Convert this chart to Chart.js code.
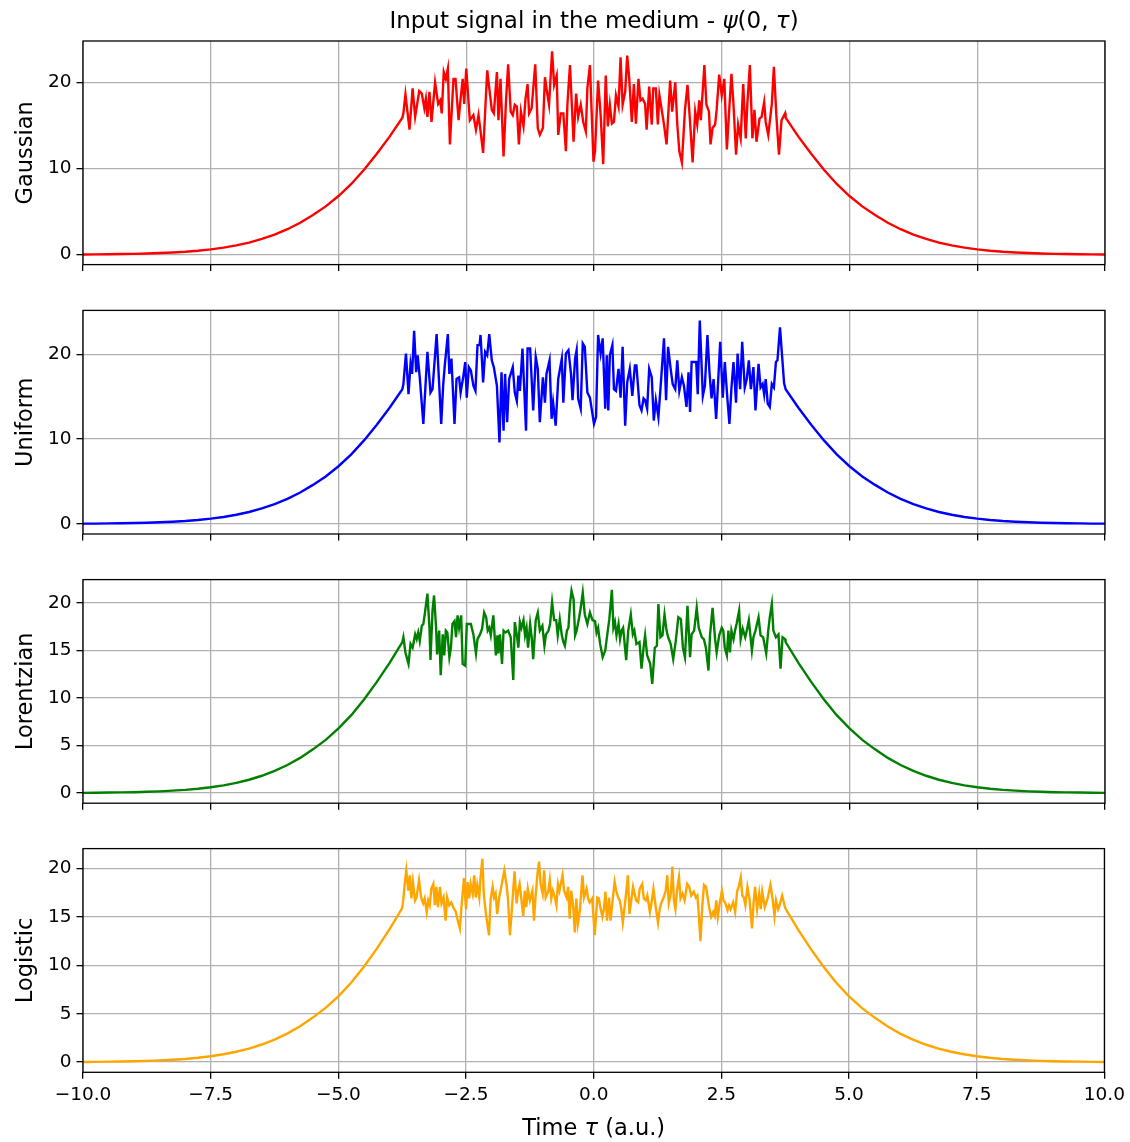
<!DOCTYPE html>
<html>
<head>
<meta charset="utf-8">
<script src="https://cdn.jsdelivr.net/npm/chart.js@4.4.0/dist/chart.umd.min.js"></script>
<style>
  body { margin: 0; background: #fff; width: 1130px; height: 1142px; position: relative; overflow: hidden; }
  canvas { position: absolute; left: 0; }
</style>
</head>
<body>
<script>
// shared time axis
const xTicks = [-10, -7.5, -5, -2.5, 0, 2.5, 5, 7.5, 10];
const yTicksWide = [0, 10, 20];
const yTicksFine = [0, 5, 10, 15, 20];

// smooth leading edge (left wing), the trailing edge is its mirror
const envTau = [-10, -9.75, -9.5, -9.25, -9, -8.75, -8.5, -8.25, -8, -7.75,
  -7.5, -7.25, -7, -6.75, -6.5, -6.25, -6, -5.75, -5.5, -5.25,
  -5, -4.75, -4.5, -4.25, -4, -3.75];
const envVal = [0.02, 0.03, 0.05, 0.07, 0.09, 0.13, 0.18, 0.25, 0.33, 0.45,
  0.61, 0.81, 1.07, 1.40, 1.82, 2.33, 2.95, 3.70, 4.60, 5.60,
  6.80, 8.20, 9.85, 11.7, 13.7, 15.9];

// noisy plateau, Gaussian noise
const gaussTau = [
  -3.73, -3.69, -3.61, -3.55, -3.50, -3.42, -3.37, -3.32, -3.29, -3.26,
  -3.22, -3.18, -3.11, -3.05, -3.01, -2.98, -2.94, -2.90, -2.86, -2.82,
  -2.75, -2.71, -2.65, -2.61, -2.57, -2.54, -2.50, -2.43, -2.36, -2.31,
  -2.26, -2.22, -2.17, -2.09, -2.00, -1.96, -1.90, -1.87, -1.83, -1.77,
  -1.72, -1.68, -1.63, -1.59, -1.55, -1.51, -1.47, -1.43, -1.38, -1.34,
  -1.30, -1.27, -1.22, -1.15, -1.10, -1.06, -1.00, -0.96, -0.93, -0.88,
  -0.82, -0.78, -0.73, -0.70, -0.65, -0.60, -0.55, -0.52, -0.47, -0.40,
  -0.35, -0.31, -0.26, -0.21, -0.16, -0.13, -0.08, -0.01, 0.02, 0.08,
  0.13, 0.18, 0.23, 0.27, 0.31, 0.35, 0.39, 0.43, 0.48, 0.52,
  0.56, 0.61, 0.65, 0.69, 0.74, 0.78, 0.82, 0.87, 0.91, 0.95,
  1.00, 1.03, 1.08, 1.13, 1.16, 1.21, 1.25, 1.28, 1.32, 1.37,
  1.42, 1.49, 1.53, 1.59, 1.63, 1.67, 1.72, 1.78, 1.83, 1.88,
  1.93, 1.98, 2.02, 2.06, 2.09, 2.16, 2.20, 2.25, 2.28, 2.32,
  2.37, 2.40, 2.45, 2.50, 2.55, 2.60, 2.65, 2.69, 2.73, 2.78,
  2.82, 2.87, 2.92, 2.97, 3.00, 3.05, 3.10, 3.14, 3.18, 3.24,
  3.28, 3.33, 3.36, 3.41, 3.48, 3.52, 3.57, 3.62, 3.67, 3.74];
const gaussVal = [
  16.4, 18.6, 14.5, 19.3, 16.0, 19.0, 18.7, 17.0, 18.1, 16.0,
  18.9, 15.4, 20.0, 17.5, 17.9, 16.4, 21.2, 20.4, 21.6, 12.8,
  20.4, 20.4, 15.6, 18.1, 20.4, 17.5, 21.6, 15.6, 16.2, 14.5,
  16.2, 14.3, 11.8, 21.4, 16.8, 16.4, 21.2, 15.6, 20.4, 11.4,
  18.1, 22.1, 16.6, 16.2, 17.4, 17.2, 12.8, 16.6, 14.9, 18.1,
  19.8, 16.4, 17.0, 22.1, 14.7, 13.9, 14.7, 20.6, 19.3, 17.4,
  23.6, 19.7, 20.8, 13.9, 16.4, 16.4, 12.0, 17.5, 22.0, 13.1,
  18.7, 16.0, 17.4, 15.4, 14.3, 19.3, 22.0, 10.8, 12.0, 20.2,
  16.2, 10.5, 20.8, 14.9, 17.4, 15.2, 15.4, 18.5, 17.2, 22.9,
  17.4, 18.9, 23.1, 20.4, 15.4, 19.8, 15.2, 20.4, 17.9, 18.1,
  17.5, 14.5, 19.5, 15.1, 19.3, 19.3, 15.1, 18.5, 17.0, 15.1,
  12.8, 20.2, 16.6, 20.0, 15.1, 12.0, 10.7, 16.8, 19.7, 15.4,
  10.7, 16.6, 15.1, 17.9, 15.6, 22.0, 17.4, 16.6, 12.8, 14.7,
  15.1, 16.8, 20.9, 18.5, 20.4, 12.2, 17.2, 21.0, 17.4, 11.6,
  15.1, 13.5, 19.8, 13.5, 17.4, 22.0, 13.5, 16.8, 13.1, 15.8,
  16.0, 17.7, 15.4, 13.9, 17.5, 21.8, 16.0, 11.6, 15.6, 16.4];

// Uniform noise
const uniformTau = [
  -3.73, -3.68, -3.63, -3.59, -3.56, -3.52, -3.48, -3.45, -3.41, -3.34,
  -3.26, -3.20, -3.16, -3.08, -2.99, -2.95, -2.92, -2.86, -2.83, -2.79,
  -2.73, -2.69, -2.64, -2.61, -2.56, -2.52, -2.49, -2.45, -2.41, -2.36,
  -2.32, -2.28, -2.24, -2.22, -2.17, -2.13, -2.09, -2.05, -2.00, -1.96,
  -1.90, -1.85, -1.81, -1.77, -1.74, -1.70, -1.66, -1.59, -1.55, -1.51,
  -1.48, -1.45, -1.40, -1.33, -1.30, -1.25, -1.19, -1.14, -1.10, -1.06,
  -1.00, -0.96, -0.93, -0.87, -0.83, -0.80, -0.75, -0.70, -0.63, -0.60,
  -0.55, -0.50, -0.45, -0.42, -0.37, -0.34, -0.31, -0.26, -0.22, -0.18,
  -0.13, -0.08,
  0.00, 0.04, 0.08, 0.13, 0.17, 0.22, 0.25, 0.28, 0.31, 0.36,
  0.39, 0.43, 0.48, 0.52, 0.56, 0.61, 0.65, 0.70, 0.75, 0.80,
  0.83, 0.89, 0.93, 0.97, 1.00, 1.04, 1.08, 1.13, 1.17, 1.21,
  1.26, 1.30, 1.37, 1.41, 1.45, 1.50, 1.54, 1.59, 1.63, 1.67,
  1.72, 1.76, 1.81, 1.85, 1.88, 1.91, 1.96, 2.00, 2.03, 2.07,
  2.13, 2.17, 2.22, 2.26, 2.30, 2.34, 2.39, 2.43, 2.47, 2.52,
  2.56, 2.61, 2.65, 2.69, 2.73, 2.78, 2.81, 2.86, 2.90, 2.95,
  2.99, 3.03, 3.07, 3.12, 3.16, 3.22, 3.26, 3.30, 3.33, 3.36,
  3.40, 3.44, 3.48, 3.52, 3.56, 3.59, 3.64, 3.72];
const uniformVal = [
  16.5, 20.1, 15.3, 18.9, 17.7, 22.8, 17.9, 19.9, 17.3, 11.8,
  20.3, 15.5, 15.9, 22.4, 11.8, 16.5, 18.7, 22.4, 17.7, 19.5,
  11.8, 17.1, 17.3, 15.5, 17.3, 19.1, 14.9, 18.5, 18.1, 16.3,
  15.7, 21.1, 21.1, 22.3, 16.7, 20.3, 19.9, 22.4, 19.3, 18.5,
  16.3, 9.6, 17.9, 11.0, 17.7, 12.0, 17.1, 18.5, 15.5, 14.5,
  17.5, 15.7, 20.7, 11.0, 20.7, 20.7, 13.4, 19.7, 18.3, 12.0,
  17.3, 14.3, 17.7, 19.3, 12.4, 14.3, 11.6, 17.1, 19.5, 14.3,
  20.1, 20.5, 17.7, 14.6, 19.5, 20.5, 14.8, 13.6, 21.3, 20.9,
  15.5, 14.9,
  11.8, 12.6, 22.3, 20.1, 21.9, 13.6, 19.9, 13.4, 19.9, 21.1,
  15.9, 15.7, 18.3, 14.9, 20.9, 11.6, 16.7, 18.3, 15.1, 18.7,
  18.7, 14.0, 13.4, 14.8, 14.6, 13.6, 18.3, 17.3, 12.2, 14.6,
  12.6, 15.9, 21.9, 14.6, 20.9, 18.3, 16.5, 15.9, 19.3, 15.7,
  17.3, 16.3, 13.8, 17.9, 13.2, 19.1, 19.1, 19.1, 15.3, 24.0,
  15.1, 16.3, 22.3, 17.9, 14.8, 17.1, 12.4, 16.9, 21.5, 14.9,
  19.1, 14.8, 11.8, 16.1, 19.1, 14.3, 20.1, 15.9, 21.5, 16.1,
  17.1, 19.3, 15.9, 18.5, 13.4, 18.9, 16.1, 16.5, 15.3, 17.1,
  14.2, 13.8, 16.5, 16.1, 19.1, 19.3, 23.2, 16.6];

// Lorentzian noise
const lorentzTau = [
  -3.73, -3.69, -3.63, -3.59, -3.55, -3.50, -3.47, -3.44, -3.41, -3.37,
  -3.34, -3.31, -3.26, -3.22, -3.20, -3.16, -3.13, -3.09, -3.07, -3.03,
  -3.00, -2.96, -2.93, -2.90, -2.87, -2.83, -2.80, -2.77, -2.73, -2.70,
  -2.67, -2.64, -2.60, -2.57, -2.52, -2.49, -2.45, -2.41, -2.36, -2.31,
  -2.28, -2.23, -2.19, -2.15, -2.11, -2.08, -2.05, -2.02, -1.97, -1.92,
  -1.89, -1.87, -1.84, -1.80, -1.77, -1.73, -1.68, -1.63, -1.58, -1.55,
  -1.51, -1.48, -1.45, -1.42, -1.38, -1.35, -1.32, -1.29, -1.25, -1.22,
  -1.19, -1.14, -1.10, -1.06, -1.01, -0.97, -0.94, -0.89, -0.86, -0.82,
  -0.78, -0.74, -0.71, -0.67, -0.63, -0.60, -0.57, -0.53, -0.50, -0.47,
  -0.44, -0.40, -0.37, -0.34, -0.29, -0.26, -0.22, -0.18, -0.13, -0.08,
  -0.03,
  0.02, 0.05, 0.08, 0.12, 0.17, 0.22, 0.26, 0.30, 0.35, 0.38,
  0.41, 0.44, 0.48, 0.51, 0.54, 0.57, 0.63, 0.67, 0.72, 0.76,
  0.79, 0.83, 0.89, 0.93, 0.97, 1.00, 1.04, 1.10, 1.14, 1.19,
  1.23, 1.26, 1.30, 1.34, 1.38, 1.42, 1.45, 1.50, 1.55, 1.60,
  1.65, 1.70, 1.74, 1.78, 1.83, 1.88, 1.91, 1.96, 2.01, 2.05,
  2.11, 2.15, 2.19, 2.24, 2.27, 2.32, 2.37, 2.40, 2.45, 2.50,
  2.53, 2.56, 2.60, 2.63, 2.66, 2.69, 2.73, 2.76, 2.79, 2.84,
  2.87, 2.91, 2.96, 2.99, 3.03, 3.09, 3.12, 3.16, 3.22, 3.26,
  3.31, 3.37, 3.41, 3.44, 3.48, 3.51, 3.56, 3.61, 3.65, 3.69,
  3.74];
const lorentzVal = [
  16.4, 14.8, 13.6, 15.7, 15.3, 16.7, 16.2, 16.9, 16.0, 17.6,
  17.8, 18.9, 21.0, 17.4, 14.0, 19.2, 20.8, 17.4, 14.6, 17.1,
  12.4, 16.7, 14.5, 17.1, 16.9, 14.3, 15.3, 17.8, 18.1, 16.4,
  18.7, 17.4, 18.7, 13.6, 13.4, 17.8, 17.8, 17.8, 16.7, 14.7,
  16.2, 16.7, 17.3, 19.0, 18.5, 17.1, 17.4, 16.6, 18.7, 14.5,
  16.6, 14.7, 16.7, 13.6, 17.1, 16.9, 17.1, 16.4, 11.9, 18.0,
  16.6, 15.3, 18.0, 17.4, 18.2, 16.6, 17.4, 15.3, 17.8, 16.4,
  14.1, 18.2, 19.0, 17.1, 17.6, 15.5, 16.7, 17.1, 17.8, 20.1,
  18.2, 18.2, 16.6, 18.3, 16.6, 15.9, 15.5, 17.1, 17.4, 19.9,
  21.3, 20.4, 16.6, 17.1, 18.5, 19.5, 21.1, 18.8, 17.8, 19.0,
  18.2,
  18.1, 16.9, 17.4, 15.7, 14.3, 15.0, 16.7, 18.3, 21.4, 17.4,
  18.0, 16.6, 17.8, 16.2, 17.1, 17.4, 14.0, 17.1, 18.8, 16.7,
  17.1, 15.7, 15.9, 13.1, 15.3, 16.6, 14.5, 13.6, 11.5, 15.3,
  15.5, 19.9, 16.4, 16.6, 18.8, 17.1, 16.4, 15.7, 14.1, 16.0,
  18.5, 18.3, 15.3, 14.3, 19.7, 14.3, 16.7, 17.1, 19.5, 17.4,
  16.4, 16.2, 15.3, 12.9, 16.6, 19.5, 16.2, 14.8, 16.6, 17.4,
  17.1, 15.3, 14.5, 17.1, 14.8, 17.1, 16.2, 17.1, 17.8, 19.2,
  16.2, 17.3, 16.4, 17.1, 18.2, 15.0, 16.4, 17.1, 18.5, 16.6,
  16.4, 14.7, 17.1, 18.5, 19.9, 17.1, 16.4, 16.7, 13.1, 16.4,
  16.2];

// Logistic noise
const logisticTau = [
  -3.73, -3.70, -3.67, -3.63, -3.60, -3.57, -3.54, -3.50, -3.47, -3.42,
  -3.38, -3.34, -3.31, -3.27, -3.24, -3.21, -3.18, -3.14, -3.11, -3.08,
  -3.05, -3.01, -2.98, -2.94, -2.90, -2.87, -2.83, -2.79, -2.75, -2.70,
  -2.67, -2.62, -2.59, -2.54, -2.50, -2.47, -2.44, -2.41, -2.37, -2.34,
  -2.31, -2.28, -2.24, -2.22, -2.18, -2.15, -2.11, -2.05, -2.02, -1.98,
  -1.95, -1.92, -1.89, -1.85, -1.81, -1.75, -1.71, -1.68, -1.64, -1.59,
  -1.55, -1.51, -1.48, -1.45, -1.42, -1.38, -1.35, -1.32, -1.29, -1.25,
  -1.20, -1.17, -1.14, -1.10, -1.07, -1.04, -1.00, -0.97, -0.94, -0.89,
  -0.86, -0.83, -0.80, -0.76, -0.73, -0.70, -0.67, -0.61, -0.58, -0.53,
  -0.50, -0.47, -0.44, -0.40, -0.37, -0.34, -0.31, -0.27, -0.22, -0.19,
  -0.14, -0.11, -0.08, -0.03, 0.02,
  0.07, 0.10, 0.13, 0.17, 0.20, 0.23, 0.26, 0.30, 0.33, 0.37,
  0.41, 0.44, 0.48, 0.51, 0.54, 0.57, 0.63, 0.67, 0.70, 0.74,
  0.77, 0.80, 0.83, 0.87, 0.90, 0.95, 0.98, 1.02, 1.05, 1.10,
  1.13, 1.17, 1.21, 1.26, 1.29, 1.32, 1.37, 1.41, 1.44, 1.47,
  1.51, 1.54, 1.57, 1.60, 1.63, 1.67, 1.70, 1.74, 1.78, 1.83,
  1.87, 1.91, 1.96, 2.00, 2.03, 2.06, 2.09, 2.13, 2.16, 2.20,
  2.26, 2.30, 2.34, 2.37, 2.40, 2.43, 2.47, 2.51, 2.54, 2.58,
  2.62, 2.65, 2.68, 2.73, 2.77, 2.81, 2.84, 2.88, 2.91, 2.94,
  2.97, 3.01, 3.05, 3.10, 3.13, 3.16, 3.20, 3.24, 3.27, 3.30,
  3.35, 3.38, 3.41, 3.46, 3.50, 3.54, 3.57, 3.61, 3.64, 3.69];
const logisticVal = [
  16.7, 18.4, 19.8, 17.7, 19.3, 16.9, 18.6, 16.7, 17.0, 18.8,
  17.0, 16.4, 16.9, 15.5, 16.7, 16.2, 17.9, 18.4, 16.2, 18.1,
  16.0, 18.1, 16.4, 17.0, 14.6, 17.0, 16.2, 16.5, 16.0, 15.5,
  14.8, 13.8, 16.0, 19.0, 15.8, 18.6, 16.9, 18.4, 17.4, 19.3,
  17.0, 18.3, 17.0, 18.8, 21.0, 17.2, 15.3, 13.1, 16.7, 18.1,
  17.0, 17.4, 15.3, 17.0, 18.1, 19.8, 18.4, 17.0, 13.1, 16.7,
  19.7, 16.4, 17.7, 18.4, 17.0, 15.1, 17.7, 16.0, 17.9, 16.7,
  17.7, 14.6, 17.0, 19.5, 20.7, 18.4, 17.4, 19.8, 17.0, 17.6,
  18.8, 16.9, 17.7, 17.0, 16.2, 18.4, 17.7, 19.3, 17.7, 17.0,
  18.1, 14.8, 17.7, 16.0, 13.4, 16.9, 14.3, 15.7, 19.3, 17.0,
  17.9, 16.9, 16.5, 16.9, 13.1,
  17.0, 16.9, 16.0, 15.0, 15.8, 17.6, 14.6, 17.0, 14.6, 16.7,
  18.6, 17.7, 17.0, 16.7, 15.8, 14.4, 17.2, 19.3, 15.3, 16.9,
  18.1, 17.4, 16.7, 16.5, 17.9, 18.4, 16.9, 16.7, 17.2, 15.5,
  16.4, 17.9, 16.2, 14.4, 15.7, 16.4, 17.0, 17.7, 19.3, 16.4,
  17.4, 20.2, 16.7, 15.8, 17.7, 19.1, 16.9, 17.4, 16.7, 18.4,
  18.1, 17.2, 17.6, 17.0, 17.2, 15.1, 12.5, 16.4, 18.3, 18.1,
  16.0, 15.0, 15.5, 15.1, 16.7, 15.0, 16.5, 17.7, 16.7, 16.4,
  15.7, 16.2, 15.8, 16.5, 15.5, 17.7, 18.1, 19.1, 17.2, 17.0,
  16.2, 18.1, 16.9, 13.8, 16.4, 18.1, 15.8, 17.4, 15.8, 17.6,
  16.0, 16.5, 17.0, 18.3, 17.0, 15.1, 16.7, 15.8, 16.2, 17.2];

function buildSeries(tau, val) {
  const pts = [];
  envTau.forEach((t, i) => pts.push({ x: t, y: envVal[i] }));
  tau.forEach((t, i) => pts.push({ x: t, y: val[i] }));
  for (let i = envTau.length - 1; i >= 0; i--) pts.push({ x: -envTau[i], y: envVal[i] });
  return pts;
}

const FONT = '"DejaVu Sans", "Liberation Sans", sans-serif';
const W = 1130;
const panels = [
  { label: 'Gaussian', color: '#ff0000', tau: gaussTau, val: gaussVal, ymin: -1.16, ymax: 24.8, yTicks: yTicksWide, top: 41, bottom: 264.6, c0: 0, c1: 287 },
  { label: 'Uniform', color: '#0000ff', tau: uniformTau, val: uniformVal, ymin: -1.2, ymax: 25.2, yTicks: yTicksWide, top: 310.4, bottom: 534, c0: 287, c1: 556 },
  { label: 'Lorentzian', color: '#008000', tau: lorentzTau, val: lorentzVal, ymin: -1.07, ymax: 22.47, yTicks: yTicksFine, top: 579.6, bottom: 803.2, c0: 556, c1: 825 },
  { label: 'Logistic', color: '#ffa500', tau: logisticTau, val: logisticVal, ymin: -1.05, ymax: 22.05, yTicks: yTicksFine, top: 848.6, bottom: 1072.3, c0: 825, c1: 1142 }
];

// text with italic pieces (mathtext-like)
function drawRich(ctx, parts, cx, y, size) {
  const fonts = parts.map(p => (p[1] ? 'italic ' : '') + size + 'px ' + FONT);
  let total = 0;
  const widths = parts.map((p, i) => { ctx.font = fonts[i]; const w = ctx.measureText(p[0]).width; total += w; return w; });
  let x = cx - total / 2;
  ctx.textAlign = 'left';
  ctx.textBaseline = 'alphabetic';
  parts.forEach((p, i) => { ctx.font = fonts[i]; ctx.fillText(p[0], x, y); x += widths[i]; });
}

const framePlugin = {
  id: 'frame',
  afterDraw(chart, args, opts) {
    const { ctx, chartArea: a } = chart;
    ctx.save();
    ctx.strokeStyle = '#000';
    ctx.lineWidth = 1.3;
    ctx.strokeRect(a.left, a.top, a.right - a.left, a.bottom - a.top);
    ctx.fillStyle = '#000';
    ctx.save();
    ctx.translate(32, (a.top + a.bottom) / 2);
    ctx.rotate(-Math.PI / 2);
    ctx.font = '22.5px ' + FONT;
    ctx.textAlign = 'center';
    ctx.textBaseline = 'alphabetic';
    ctx.fillText(opts.label, 0, 0);
    ctx.restore();
    if (opts.title) {
      drawRich(ctx, [['Input signal in the medium - ', false], ['\u03c8', true], ['(0, ', false], ['\u03c4', true], [')', false]],
        (a.left + a.right) / 2, 28, 23);
    }
    if (opts.xlabel) {
      drawRich(ctx, [['Time ', false], ['\u03c4', true], [' (a.u.)', false]],
        (a.left + a.right) / 2, a.bottom + 63, 22.5);
    }
    ctx.restore();
  }
};

function fmtX(v) {
  return v.toFixed(1).replace('-', '\u2212');
}

panels.forEach((p, k) => {
  const last = k === panels.length - 1;
  const cv = document.createElement('canvas');
  const h = p.c1 - p.c0;
  cv.width = W;
  cv.height = h;
  cv.style.top = p.c0 + 'px';
  document.body.appendChild(cv);
  const xAxisH = last ? 40 : 8;
  const padTop = p.top - p.c0;
  const padBottom = h - (p.bottom - p.c0) - xAxisH;
  const gridOpts = { color: '#b0b0b0', lineWidth: 1.3, tickColor: '#000', tickWidth: 1.3, tickLength: 6.5 };

  new Chart(cv, {
    type: 'line',
    data: {
      datasets: [{
        data: buildSeries(p.tau, p.val),
        borderColor: p.color,
        borderWidth: 2.4,
        pointRadius: 0,
        tension: 0,
        fill: false
      }]
    },
    options: {
      responsive: false,
      animation: false,
      layout: { padding: { left: 0, right: W - 1105, top: padTop, bottom: padBottom } },
      plugins: {
        legend: { display: false },
        tooltip: { enabled: false },
        frame: { label: p.label, title: k === 0, xlabel: last }
      },
      scales: {
        x: {
          type: 'linear',
          min: -10,
          max: 10,
          afterBuildTicks: s => { s.ticks = xTicks.map(v => ({ value: v })); },
          afterFit: s => { s.height = xAxisH; },
          grid: gridOpts,
          border: { display: false },
          ticks: {
            display: last,
            autoSkip: false,
            maxRotation: 0,
            padding: 5,
            color: '#000',
            font: { family: FONT, size: 18.5 },
            callback: v => fmtX(v)
          }
        },
        y: {
          type: 'linear',
          min: p.ymin,
          max: p.ymax,
          afterBuildTicks: s => { s.ticks = p.yTicks.map(v => ({ value: v })); },
          afterFit: s => { s.width = 83; },
          grid: gridOpts,
          border: { display: false },
          ticks: {
            padding: 5,
            color: '#000',
            font: { family: FONT, size: 18.5 },
            callback: v => String(v)
          }
        }
      }
    },
    plugins: [framePlugin]
  });
});
</script>
</body>
</html>
